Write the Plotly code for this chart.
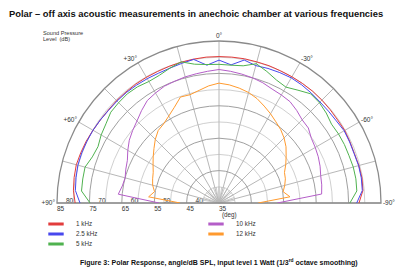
import plotly.graph_objects as go

# ---- data ----
angles = list(range(-90, 91, 5))  # degrees, + is left of axis
spl_1k = [78.2, 79.6, 79.8, 79.7, 79.5, 79.6, 79.8, 79.7, 79.8, 79.9, 80.0, 80.0, 80.0,
          80.0, 80.1, 80.1, 80.2, 80.2, 80.2, 80.2, 80.1, 80.0, 79.9, 79.8, 79.8, 79.8,
          79.7, 79.7, 79.6, 79.7, 79.9, 80.2, 80.4, 80.6, 80.4, 80.1, 79.4]
spl_2k5 = [77.5, 79.4, 79.6, 79.6, 79.4, 79.5, 79.6, 79.2, 79.1, 79.1, 79.3, 79.5, 79.6,
           79.4, 79.2, 78.9, 79.8, 77.8, 79.1, 77.7, 80.0, 79.6, 79.3, 79.2, 79.3, 79.4,
           79.5, 79.5, 79.5, 79.7, 79.9, 80.0, 80.1, 80.1, 79.8, 79.5, 77.9]
spl_5k = [75.4, 77.7, 77.9, 77.9, 77.7, 77.7, 77.6, 77.4, 78.2, 78.8, 79.0, 77.5, 76.3,
          76.9, 78.2, 79.5, 78.0, 77.7, 77.8, 77.9, 78.5, 80.1, 79.3, 78.5, 78.3, 78.8,
          79.0, 78.8, 78.6, 77.6, 77.0, 76.2, 76.6, 77.8, 77.7, 77.6, 74.8]
spl_10k = [53.0, 66.8, 67.2, 67.5, 68.2, 68.8, 69.3, 69.8, 71.0, 71.3, 72.3, 73.2, 73.5,
           73.8, 74.5, 75.0, 75.4, 75.8, 76.2, 75.8, 75.5, 75.3, 75.0, 74.8, 74.2, 73.6,
           72.2, 70.8, 69.8, 68.8, 67.5, 66.2, 65.6, 65.0, 65.3, 66.2, 53.5]
spl_12k = [47.1, 57.0, 55.1, 56.0, 56.8, 57.3, 58.8, 60.3, 62.0, 63.4, 64.6, 65.6, 66.8,
           68.0, 69.3, 70.3, 71.0, 71.6, 72.0, 71.3, 70.3, 69.6, 69.8, 67.6, 66.0, 64.8,
           64.2, 62.8, 61.2, 59.8, 58.5, 57.4, 56.8, 56.2, 55.2, 56.8, 47.0]

series_names = ["1 kHz", "2.5 kHz", "5 kHz", "10 kHz", "12 kHz"]
series_vals = [spl_1k, spl_2k5, spl_5k, spl_10k, spl_12k]
series_colors = ["#e23c3c", "#4848ee", "#4fb24f", "#b45ec8", "#ff9a2e"]

angle_ticks = list(range(-90, 91, 15))
angle_labels = {-90: "-90°", -60: "-60°", -30: "-30°", 0: "0°", 30: "+30°", 60: "+60°", 90: "+90°"}
angle_text = [angle_labels.get(a, "") for a in angle_ticks]
db_major = [35, 45, 55, 65, 75, 85]
db_minor = [40, 50, 60, 70, 80]
fan_angles = list(range(-80, 81, 10))  # fine spokes near the centre

W, H = 400, 270
cx, cy, R = 219, 203, 162
dom_x = [(cx - R) / W, (cx + R) / W]
dom_y = [(H - cy) / H, (H - cy + R) / H]

fig = go.Figure()
fan_r, fan_t = [], []
for a in fan_angles:
    fan_r += [35, 40, None]
    fan_t += [a, a, None]
fig.add_trace(go.Scatterpolar(r=fan_r, theta=fan_t, mode="lines", subplot="polar",
                              line=dict(color="#b8b8b8", width=0.7), showlegend=False,
                              hoverinfo="skip"))

for name, vals, col in zip(series_names, series_vals, series_colors):
    fig.add_trace(go.Scatterpolar(r=vals, theta=angles, mode="lines", subplot="polar2",
                                  line=dict(color=col, width=1), showlegend=False,
                                  hoverinfo="skip"))

legend_pos = [(36, 224), (36, 234), (36, 244), (196, 224), (196, 234)]
legend_ids = ["legend", "legend2", "legend3", "legend4", "legend5"]
for name, col, lid in zip(series_names, series_colors, legend_ids):
    fig.add_trace(go.Scatterpolar(r=[None], theta=[None], mode="markers", subplot="polar2",
                                  name=name, legend=lid,
                                  marker=dict(symbol="line-ew", size=11,
                                              line=dict(width=3, color=col))))

font_fam = "Liberation Sans, Arial, sans-serif"
common_ang = dict(rotation=90, direction="counterclockwise")
layout = dict(
    width=W, height=H, margin=dict(l=0, r=0, t=0, b=0),
    paper_bgcolor="white", plot_bgcolor="white",
    font=dict(family=font_fam, size=7, color="#333"),
    polar=dict(
        domain=dict(x=dom_x, y=dom_y), sector=[0, 180], bgcolor="white",
        angularaxis=dict(**common_ang, showgrid=False, showticklabels=False,
                         showline=False, ticks=""),
        radialaxis=dict(range=[35, 85], tickvals=db_minor, angle=180, side="clockwise",
                        showline=False, ticks="", gridcolor="#d0d0d0", gridwidth=0.8,
                        showticklabels=True,
                        tickfont=dict(size=6.5, color="#333"), tickangle=180),
    ),
    polar2=dict(
        domain=dict(x=dom_x, y=dom_y), sector=[0, 180], bgcolor="rgba(0,0,0,0)",
        angularaxis=dict(**common_ang, tickvals=angle_ticks, ticktext=angle_text,
                         showline=True, linecolor="#8a8a8a", linewidth=1.3,
                         gridcolor="#b8b8b8", gridwidth=0.8, ticks="",
                         tickfont=dict(size=6.5, color="#333"), layer="below traces"),
        radialaxis=dict(range=[35, 85], tickvals=db_major, angle=180, side="counterclockwise",
                        showline=False, ticks="", gridcolor="#a0a0a0", gridwidth=0.9,
                        tickfont=dict(size=6.5, color="#333"), tickangle=180,
                        layer="below traces"),
    ),
    annotations=[
        dict(text="<b>Polar – off axis acoustic measurements in anechoic chamber at various frequencies</b>",
             x=7 / W, y=1 - 13 / H, xref="paper", yref="paper", xanchor="left", yanchor="middle",
             showarrow=False, font=dict(size=9.4, color="#111")),
        dict(text="Sound Pressure", x=41 / W, y=1 - 33 / H, xref="paper", yref="paper",
             xanchor="left", yanchor="middle", showarrow=False, font=dict(size=5.6, color="#333")),
        dict(text="Level  (dB)", x=41 / W, y=1 - 38.5 / H, xref="paper", yref="paper",
             xanchor="left", yanchor="middle", showarrow=False, font=dict(size=5.6, color="#333")),
        dict(text="(deg)", x=230 / W, y=1 - 215 / H, xref="paper", yref="paper",
             xanchor="center", yanchor="middle", showarrow=False, font=dict(size=6.3, color="#333")),
        dict(text="<b>Figure 3: Polar Response, angle/dB SPL, input level 1 Watt (1/3<sup>rd</sup> octave smoothing)</b>",
             x=219 / W, y=1 - 262 / H, xref="paper", yref="paper", xanchor="center", yanchor="middle",
             showarrow=False, font=dict(size=7.0, color="#111")),
    ],
)
for lid, (lx, ly) in zip(legend_ids, legend_pos):
    layout[lid] = dict(x=lx / W, y=1 - ly / H, xanchor="left", yanchor="middle",
                       bgcolor="rgba(0,0,0,0)", font=dict(size=6.3, color="#333"),
                       itemclick=False, itemdoubleclick=False)
fig.update_layout(**layout)
fig.write_html("out.html")
